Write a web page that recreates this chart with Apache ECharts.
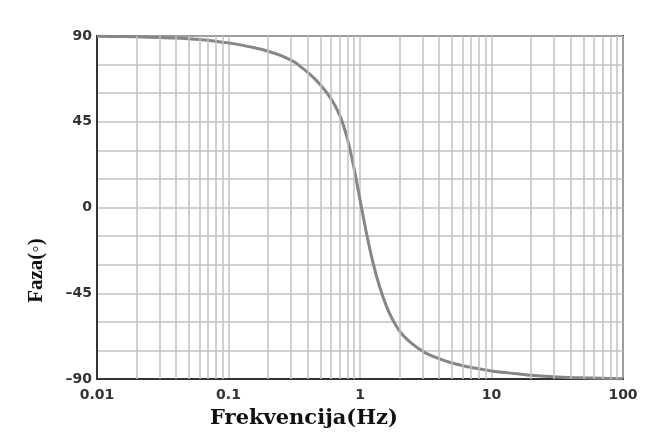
<!DOCTYPE html>
<html>
<head>
<meta charset="utf-8">
<script src="https://cdn.jsdelivr.net/npm/echarts@6/dist/echarts.min.js"></script>
<style>html,body{margin:0;padding:0;background:#fff}#c{width:652px;height:434px}</style>
</head>
<body>
<div id="c"></div>
<script>
const freq = [0.01,0.0158,0.0251,0.0398,0.0631,0.0794,0.1,0.126,0.158,0.2,0.251,0.316,0.355,0.398,0.447,0.501,0.562,0.631,0.708,0.794,0.891,1,1.122,1.259,1.413,1.585,1.778,1.995,2.239,2.512,2.818,3.162,3.981,5.012,6.31,7.943,10,15.85,19.95,31.62,50.12,100];
const phase = [89.9,89.7,89.4,88.9,88.0,87.3,86.4,85.2,83.8,82.0,79.7,76.4,73.8,71.0,67.9,64.3,60.0,54.7,47.7,37.2,22.2,4.2,-13.8,-29.3,-41.8,-51.6,-59.1,-64.7,-68.7,-71.7,-74.2,-76.4,-79.3,-81.6,-83.3,-84.6,-85.8,-87.3,-88.0,-88.9,-89.4,-89.9];
const minorGridX = [0.02,0.03,0.04,0.05,0.06,0.07,0.08,0.09,0.2,0.3,0.4,0.5,0.6,0.7,0.8,0.9,2,3,4,5,6,7,8,9,20,30,40,50,60,70,80,90];
const yTicks = [-90,-45,0,45,90];

const chart = echarts.init(document.getElementById('c'));
const gridColor = '#c2c2c2';
chart.setOption({
  animation:false,
  backgroundColor:'#fff',
  grid:{left:97,right:29,top:36,bottom:51,show:true,borderColor:'#333',borderWidth:2,backgroundColor:'transparent'},
  xAxis:{
    type:'log',logBase:10,min:0.01,max:100,
    name:'Frekvencija(Hz)',nameLocation:'middle',nameGap:29,
    nameTextStyle:{fontFamily:'DejaVu Serif',fontWeight:'bold',fontSize:21,color:'#111',padding:[0,112,0,0]},
    axisLine:{show:true,onZero:false,lineStyle:{color:'#333',width:2}},
    axisTick:{show:false},
    axisLabel:{margin:9,fontFamily:'DejaVu Sans',fontWeight:'bold',fontSize:14,color:'#333',
      formatter:function(v){return String(+v.toPrecision(3));}},
    splitLine:{show:true,lineStyle:{color:gridColor,width:1.5}}
  },
  yAxis:{
    type:'value',min:-90,max:90,interval:15,
    name:'Faza(◦)',nameLocation:'middle',nameGap:50,nameRotate:90,
    nameTextStyle:{fontFamily:'Liberation Serif',fontWeight:'bold',fontSize:21,color:'#111',padding:[0,126,0,0]},
    axisLine:{show:true,onZero:false,lineStyle:{color:'#333',width:2}},
    axisTick:{show:false},
    axisLabel:{margin:5,fontFamily:'DejaVu Sans',fontWeight:'bold',fontSize:14,color:'#333',
      formatter:function(v){return yTicks.indexOf(v)>=0 ? String(v).replace('-','–') : '';}},
    splitLine:{show:true,lineStyle:{color:gridColor,width:1.5}}
  },
  series:[
    {type:'line',z:1,data:freq.map((f,i)=>[f,phase[i]]),symbol:'none',lineStyle:{opacity:0},silent:true,
     markLine:{silent:true,symbol:['none','none'],label:{show:false},
       lineStyle:{color:gridColor,width:1.5,type:'solid'},
       data:minorGridX.map(v=>({xAxis:v}))}},
    {type:'line',z:3,data:freq.map((f,i)=>[f,phase[i]]),symbol:'none',smooth:0.3,
     lineStyle:{color:'#868686',width:3}}
  ]
});
</script>
</body>
</html>
